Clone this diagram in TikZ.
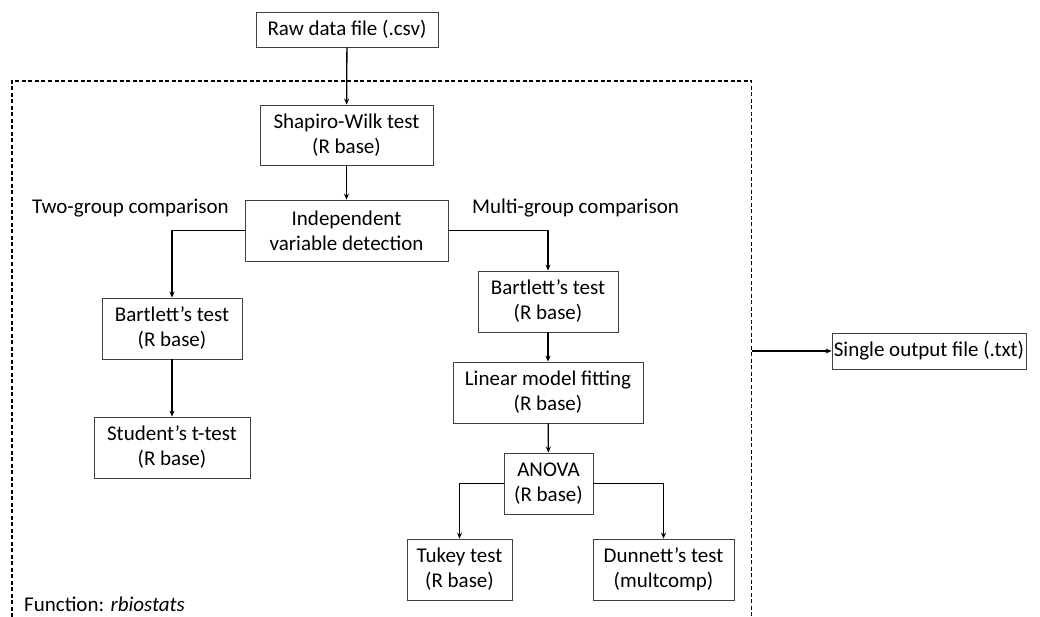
\documentclass[tikz,border=0pt]{standalone}
\usepackage{fontspec}
\setmainfont{Carlito}
\usetikzlibrary{arrows.meta}
\begin{document}
\begin{tikzpicture}[x=1pt,y=-1pt,
  box/.style={draw=black!75,line width=0.8pt,inner sep=0pt,align=center,font=\fontsize{21}{25}\selectfont},
  lbl/.style={inner sep=0pt,font=\fontsize{21}{25}\selectfont},
  arr/.style={line width=1.3pt,-{Stealth[length=6pt,width=5pt]}},
  frame/.style={line width=1.1pt,dash pattern=on 4pt off 2.5pt}]
\useasboundingbox (0,0) rectangle (1040,617);
\node[box,minimum width=182,minimum height=35] (raw) at (347,29.5) {Raw data file (.csv)};
\node[box,minimum width=173,minimum height=60] (sw) at (346.5,135) {Shapiro-Wilk test\\(R base)};
\node[box,minimum width=203,minimum height=61] (ind) at (346.5,230.5) {Independent\\variable detection};
\node[lbl] (two) at (130.5,208) {Two-group comparison};
\node[lbl] (multi) at (575.5,208) {Multi-group comparison};
\node[box,minimum width=140,minimum height=61] (bl) at (172,328.5) {Bartlett’s test\\(R base)};
\node[box,minimum width=156,minimum height=61] (st) at (172,447.5) {Student’s t-test\\(R base)};
\node[box,minimum width=140,minimum height=61] (br) at (548,301.5) {Bartlett’s test\\(R base)};
\node[box,minimum width=190,minimum height=61] (lm) at (548,392.5) {Linear model fitting\\(R base)};
\node[box,minimum width=89,minimum height=61] (an) at (548.5,483.5) {ANOVA\\(R base)};
\node[box,minimum width=105,minimum height=61] (tk) at (459.5,569.5) {Tukey test\\(R base)};
\node[box,minimum width=141,minimum height=61] (dn) at (663.5,569.5) {Dunnett’s test\\(multcomp)};
\node[box,minimum width=194,minimum height=36] (out) at (929,351) {Single output file (.txt)};
\node[lbl,anchor=west] (fn) at (24,604) {Function: \textit{rbiostats}};
\coordinate (f1) at (12,617);
\coordinate (f2) at (12,81);
\coordinate (f3) at (751.7,81);
\coordinate (f4) at (751.7,617);
\coordinate (fo) at (751.7,351);
\draw[frame] (f1) -- (f2) -- (f3) -- (f4);
\draw[arr] (raw) -- (sw);
\draw[arr] (sw) -- (ind);
\draw[arr] (ind.west) -| (bl.north);
\draw[arr] (bl) -- (st);
\draw[arr] (ind.east) -| (br.north);
\draw[arr] (br) -- (lm);
\draw[arr] (lm) -- (an);
\draw[arr] (an.west) -| (tk.north);
\draw[arr] (an.east) -| (dn.north);
\draw[arr] (fo) -- (out.west);
\end{tikzpicture}
\end{document}
